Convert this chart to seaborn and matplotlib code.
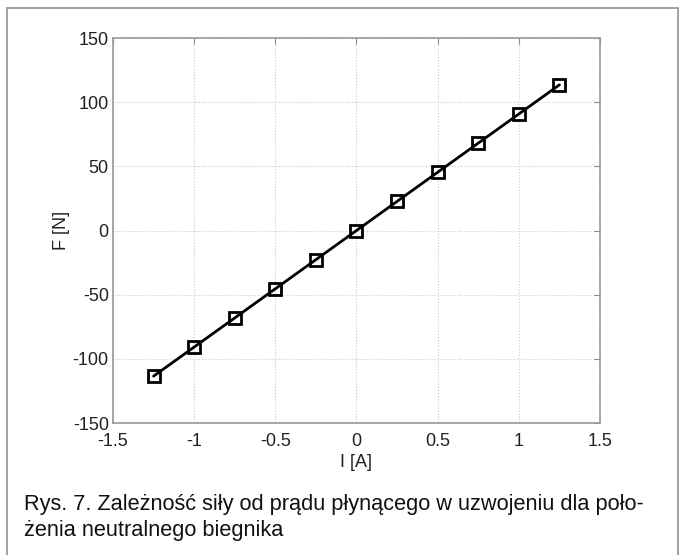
import numpy as np
import pandas as pd
import seaborn as sns
import matplotlib.pyplot as plt
from matplotlib.patches import Rectangle

# data
current = [-1.25, -1.0, -0.75, -0.5, -0.25, 0.0, 0.25, 0.5, 0.75, 1.0, 1.25]
force = [-113.5, -90.8, -68.1, -45.4, -22.7, 0.0, 22.7, 45.4, 68.1, 90.8, 113.5]

x_ticks = [-1.5, -1, -0.5, 0, 0.5, 1, 1.5]
x_ticklabels = ['-1.5', '-1', '-0.5', '0', '0.5', '1', '1.5']
y_ticks = [-150, -100, -50, 0, 50, 100, 150]
y_ticklabels = ['-150', '-100', '-50', '0', '50', '100', '150']

caption_1 = 'Rys. 7. Zależność siły od prądu płynącego w uzwojeniu dla poło-'
caption_2 = 'żenia neutralnego biegnika'

df = pd.DataFrame({'I': current, 'F': force})

sns.set_style('white')
plt.rcParams['font.family'] = ['Liberation Sans', 'DejaVu Sans']

fig = plt.figure(figsize=(6.83, 5.55), dpi=100)
ax = fig.add_axes([0.1654, 0.2378, 0.7131, 0.6937])

sns.lineplot(data=df, x='I', y='F', ax=ax, color='black', linewidth=2.0,
             marker='s', markersize=9.3, markerfacecolor='none',
             markeredgecolor='black', markeredgewidth=2.0)

ax.set_xlim(-1.5, 1.5)
ax.set_ylim(-150, 150)
ax.set_xticks(x_ticks)
ax.set_xticklabels(x_ticklabels)
ax.set_yticks(y_ticks)
ax.set_yticklabels(y_ticklabels)

ax.grid(True, linestyle=':', color='#c8c8c8', linewidth=0.8)
ax.tick_params(direction='in', length=4, width=0.8, color='#888888',
               labelsize=13, labelcolor='#222222', top=True, right=True)
ax.tick_params(axis='x', pad=7)
ax.tick_params(axis='y', pad=3)
for s in ax.spines.values():
    s.set_color('#999999')
    s.set_linewidth(1.2)

ax.set_xlabel('I [A]', fontsize=13, color='#222222', labelpad=3)
ax.set_ylabel('F [N]', fontsize=13, color='#222222')
ax.yaxis.set_label_coords(-0.088, 0.5)

# frame around the figure (open at the bottom)
fig.patches.append(Rectangle((0.0102, -0.05), 0.9825, 1.0356,
                             transform=fig.transFigure, fill=False,
                             edgecolor='#9a9a9a', linewidth=1.3))

fig.text(0.0351, 0.0901, caption_1, fontsize=15.7, va='center', color='#111111')
fig.text(0.0351, 0.0450, caption_2, fontsize=15.7, va='center', color='#111111')

fig.savefig('out.png', dpi=100)
